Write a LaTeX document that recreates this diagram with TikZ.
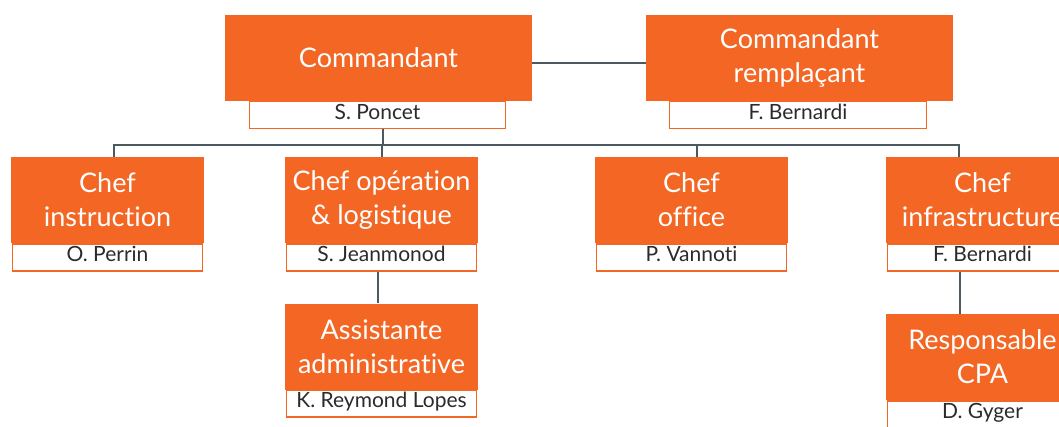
\documentclass[tikz,border=0pt]{standalone}
\usepackage{fontspec}
\setmainfont[Ligatures=NoCommon]{Lato}
\definecolor{orgc}{HTML}{F36624}
\definecolor{linec}{HTML}{4B5A61}
\definecolor{txtc}{HTML}{2B2B2B}
\begin{document}
\begin{tikzpicture}[x=1pt,y=-1pt,
  orgbox/.style={fill=orgc, text=white, inner sep=0pt, align=center,
    minimum height=86pt, font=\fontsize{27}{34}\selectfont},
  namebox/.style={fill=white, draw=orgc, line width=1.6pt, text=txtc, inner sep=0pt,
    minimum height=27pt, text height=15pt, text depth=7pt, font=\fontsize{21}{24}\selectfont},
  conn/.style={draw=linec, line width=2pt}]
\useasboundingbox (0,0) rectangle (1059,426);
% level 1
\node[namebox, minimum width=256pt] (cmdn) at (377.5,115) {S. Poncet};
\node[orgbox, minimum width=307pt] (cmd) at (378.5,58) {Commandant};
\node[namebox, minimum width=257pt] (remn) at (798,115) {F. Bernardi};
\node[orgbox, minimum width=307pt] (rem) at (799.5,58) {Commandant\\remplaçant};
% level 2
\node[orgbox, minimum width=193pt] (instr) at (107.5,200) {Chef\\instruction};
\node[namebox, minimum width=190pt] (instrn) at (107.5,257.5) {O. Perrin};
\node[orgbox, minimum width=193pt] (ops) at (381.5,200) {Chef opération\\\& logistique};
\node[namebox, minimum width=190pt] (opsn) at (381.5,257.5) {S. Jeanmonod};
\node[orgbox, minimum width=193pt] (off) at (691.5,200) {Chef\\office};
\node[namebox, minimum width=190pt] (offn) at (691.5,257.5) {P. Vannoti};
\node[orgbox, minimum width=193pt] (infra) at (982.5,200) {Chef\\infrastructure};
\node[namebox, minimum width=190pt] (infran) at (982.5,257.5) {F. Bernardi};
% level 3
\node[orgbox, minimum width=193pt] (assist) at (381.5,346.5) {Assistante\\administrative};
\node[namebox, minimum width=190pt] (assistn) at (381.5,403.5) {K. Reymond Lopes};
\node[orgbox, minimum width=193pt] (resp) at (982.5,357) {Responsable\\CPA};
\node[namebox, minimum width=190pt] (respn) at (982.5,414.5) {D. Gyger};
% connectors
\coordinate (bc) at (383,145);
\coordinate (b1) at (114,145);
\coordinate (b2) at (382,145);
\coordinate (b3) at (697,145);
\coordinate (b4) at (959,145);
\draw[conn] ([yshift=-5pt]cmd.east) -- ([yshift=-5pt]rem.west);
\draw[conn] (cmdn.south -| bc) -- (bc);
\draw[conn] (instr.north -| b1) -- (b1) -- (b4) -- (infra.north -| b4);
\draw[conn] (b2) -- (ops.north -| b2);
\draw[conn] (b3) -- (off.north -| b3);
\draw[conn] ([xshift=-3.5pt]opsn.south) -- ([xshift=-3.5pt]assist.north);
\draw[conn] ([xshift=-22.5pt]infran.south) -- ([xshift=-22.5pt]resp.north);
\end{tikzpicture}
\end{document}
